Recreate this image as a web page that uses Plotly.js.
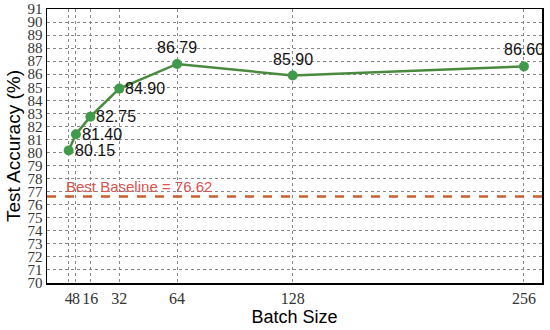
<!DOCTYPE html>
<html><head><meta charset="utf-8">
<script src="https://cdn.plot.ly/plotly-3.0.1.min.js"></script>
<style>body{margin:0;background:#fff}</style>
</head><body><div id="chart" style="width:550px;height:330px"></div>
<script>
const batchSizes = [4, 8, 16, 32, 64, 128, 256];
const accuracy = [80.15, 81.40, 82.75, 84.90, 86.79, 85.90, 86.60];
const labelText = ["80.15", "81.40", "82.75", "84.90", "86.79", "85.90", "86.60"];
const labelPos = ["right", "right", "right", "right", "top", "top", "top"];
const baseline = 76.62;
const yTicks = [70,71,72,73,74,75,76,77,78,79,80,81,82,83,84,85,86,87,88,89,90,91];

const anns = batchSizes.map((x, i) => {
  const right = labelPos[i] === "right";
  return {
    x: x, y: accuracy[i], xref: "x", yref: "y", text: labelText[i], showarrow: false,
    xanchor: right ? "left" : "center", yanchor: right ? "middle" : "bottom",
    xshift: right ? 4 : 0, yshift: right ? 0 : 6,
    font: {family: "Liberation Sans, Arial, sans-serif", size: 16, color: "#111"}
  };
});
anns.push({
  x: 4, y: baseline, xref: "x", yref: "y", text: "Best Baseline = " + baseline.toFixed(2),
  showarrow: false, xanchor: "left", yanchor: "bottom", xshift: -5, yshift: 0,
  font: {family: "Liberation Sans, Arial, sans-serif", size: 15, color: "#d9534f"}
});

const data = [
  {x: [-8, 266], y: [baseline, baseline], mode: "lines",
   line: {color: "#c8602f", width: 2.5, dash: "dash"}, hoverinfo: "skip", showlegend: false},
  {x: batchSizes, y: accuracy, mode: "lines+markers",
   line: {color: "#4a8a3e", width: 2.5},
   marker: {color: "#3f9a4c", size: 10}, showlegend: false}
];

const layout = {
  width: 550, height: 330,
  margin: {l: 47, r: 8, t: 9, b: 47},
  paper_bgcolor: "#fff", plot_bgcolor: "#fff",
  xaxis: {
    range: [-8, 266], tickmode: "array", tickvals: batchSizes, ticktext: batchSizes.map(String),
    tickangle: 0, automargin: false,
    showgrid: true, gridcolor: "#888", griddash: "dot", gridwidth: 1,
    showline: true, linecolor: "#000", linewidth: 1.5, mirror: true, zeroline: false,
    ticks: "", tickfont: {family: "Liberation Serif, Times New Roman, serif", size: 16, color: "#333"},
    title: {text: "Batch Size", font: {family: "Liberation Sans, Arial, sans-serif", size: 18, color: "#000"}, standoff: 4}
  },
  yaxis: {
    range: [70, 91], tickmode: "array", tickvals: yTicks, ticktext: yTicks.map(String),
    automargin: false,
    showgrid: true, gridcolor: "#888", griddash: "dot", gridwidth: 1,
    showline: true, linecolor: "#000", linewidth: 1.5, mirror: true, zeroline: false,
    ticks: "", tickfont: {family: "Liberation Serif, Times New Roman, serif", size: 15, color: "#333"},
    title: {text: "Test Accuracy (%)", font: {family: "Liberation Sans, Arial, sans-serif", size: 19, color: "#000"}, standoff: 2}
  },
  annotations: anns
};
Plotly.newPlot("chart", data, layout, {displayModeBar: false, staticPlot: true});
</script></body></html>
